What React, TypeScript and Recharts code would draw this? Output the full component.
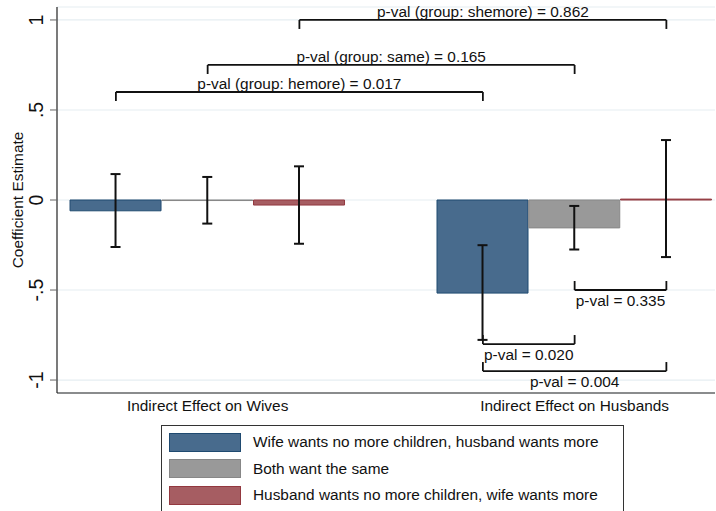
import React from "react";
import {
  ComposedChart,
  Bar,
  Cell,
  XAxis,
  YAxis,
  CartesianGrid,
  ErrorBar,
  ReferenceLine,
  Legend,
} from "recharts";

// ---------- data ----------
const groups = ["Indirect Effect on Wives", "Indirect Effect on Husbands"];
const seriesNames = [
  "Wife wants no more children, husband wants more",
  "Both want the same",
  "Husband wants no more children, wife wants more",
];

const wifeMoreEst = [-0.06, -0.517];
const wifeMoreLo = [-0.261, -0.777];
const wifeMoreHi = [0.144, -0.251];

const bothSameEst = [-0.003, -0.155];
const bothSameLo = [-0.131, -0.275];
const bothSameHi = [0.128, -0.033];

const husbMoreEst = [-0.028, 0.005];
const husbMoreLo = [-0.243, -0.317];
const husbMoreHi = [0.187, 0.333];

const yTicks = [-1, -0.5, 0, 0.5, 1];
const yTickLabels = ["-1", "-.5", "0", ".5", "1"];

// tests across groups (same series, wives vs husbands)
const groupTestLabels = [
  "p-val (group: hemore) = 0.017",
  "p-val (group: same) = 0.165",
  "p-val (group: shemore) = 0.862",
];
const groupTestSeries = [0, 1, 2];
const groupTestLevels = [0.6, 0.75, 1.0];

// tests within husbands group
const husbTestLabels = ["p-val = 0.335", "p-val = 0.020", "p-val = 0.004"];
const husbTestFrom = [1, 0, 0];
const husbTestTo = [2, 1, 2];
const husbTestLevels = [-0.5, -0.8, -0.95];

// ---------- styles ----------
const FONT = "'Liberation Sans', Arial, Helvetica, sans-serif";
const FS = 15.4;
const fills = ["#486b8d", "#999999", "#a65d62"];
const strokes = ["#1f4a70", "#878787", "#93383f"];
const LEG = 0.05;

const estimates = [wifeMoreEst, bothSameEst, husbMoreEst];
const lows = [wifeMoreLo, bothSameLo, husbMoreLo];
const highs = [wifeMoreHi, bothSameHi, husbMoreHi];

const slotX = (g: number, s: number) => g * (seriesNames.length + 1) + s + 0.5;
const groupCenters = groups.map((_, g) => slotX(g, (seriesNames.length - 1) / 2));

const rows = groups.flatMap((_, g) =>
  seriesNames.map((__, s) => ({
    x: slotX(g, s),
    value: estimates[s][g],
    err: [estimates[s][g] - lows[s][g], highs[s][g] - estimates[s][g]],
    series: s,
  }))
);

type Seg = { x1: number; y1: number; x2: number; y2: number; label?: string; below?: boolean };
const segments: Seg[] = [];
groupTestLabels.forEach((label, i) => {
  const s = groupTestSeries[i];
  const a = slotX(0, s);
  const b = slotX(1, s);
  const L = groupTestLevels[i];
  segments.push({ x1: a, y1: L - LEG, x2: a, y2: L });
  segments.push({ x1: a, y1: L, x2: b, y2: L, label, below: false });
  segments.push({ x1: b, y1: L, x2: b, y2: L - LEG });
});
husbTestLabels.forEach((label, i) => {
  const a = slotX(1, husbTestFrom[i]);
  const b = slotX(1, husbTestTo[i]);
  const L = husbTestLevels[i];
  segments.push({ x1: a, y1: L + LEG, x2: a, y2: L });
  segments.push({ x1: a, y1: L, x2: b, y2: L, label, below: true });
  segments.push({ x1: b, y1: L, x2: b, y2: L + LEG });
});

const makeLabel = (text: string, below: boolean) => (props: any) => {
  const vb = props.viewBox || {};
  return (
    <text
      x={vb.x + vb.width / 2}
      y={below ? vb.y + 15.5 : vb.y - 3}
      textAnchor="middle"
      fontSize={FS}
      fontFamily={FONT}
      fill="#111"
    >
      {text}
    </text>
  );
};

const YTick = (props: any) => {
  const { x, y, payload } = props;
  const idx = yTicks.indexOf(payload.value);
  return (
    <text
      transform={`translate(${x - 5},${y}) rotate(-90)`}
      textAnchor="middle"
      fontSize={19.5}
      fontFamily={FONT}
      fill="#111"
    >
      {idx >= 0 ? yTickLabels[idx] : payload.value}
    </text>
  );
};

const XTick = (props: any) => {
  const { x, y, payload } = props;
  const idx = groupCenters.indexOf(payload.value);
  return (
    <text x={x} y={y} dy={18} textAnchor="middle" fontSize={FS} fontFamily={FONT} fill="#111">
      {idx >= 0 ? groups[idx] : ""}
    </text>
  );
};

const YLabel = (props: any) => {
  const vb = props.viewBox || { x: 0, y: 0, width: 0, height: 0 };
  return (
    <text
      transform={`translate(${vb.x + 23},${vb.y + vb.height / 2}) rotate(-90)`}
      textAnchor="middle"
      fontSize={FS}
      fontFamily={FONT}
      fill="#111"
    >
      Coefficient Estimate
    </text>
  );
};

const LegendBox = () => (
  <div
    style={{
      border: "1px solid #333",
      width: 463,
      height: 100,
      boxSizing: "border-box",
      background: "#fff",
      fontFamily: FONT,
      fontSize: FS,
      color: "#111",
      paddingTop: 3,
      paddingLeft: 7,
    }}
  >
    {seriesNames.map((name, i) => (
      <div key={name} style={{ display: "flex", alignItems: "center", height: 26.5 }}>
        <div
          style={{
            width: 72,
            height: 19,
            boxSizing: "border-box",
            background: fills[i],
            border: `1px solid ${strokes[i]}`,
            marginRight: 12,
          }}
        />
        <span>{name}</span>
      </div>
    ))}
  </div>
);

export default function App() {
  return (
    <div
      style={{
        position: "absolute",
        left: 0,
        top: 0,
        width: 716,
        height: 511,
        overflow: "hidden",
        background: "#fff",
      }}
    >
      <ComposedChart
        width={716}
        height={511}
        data={rows}
        margin={{ top: 7, right: 1, left: 0, bottom: 88 }}
        style={{ fontFamily: FONT }}
      >
        <CartesianGrid horizontal vertical={false} stroke="#e6eef2" strokeWidth={1.2} />
        <XAxis
          type="number"
          dataKey="x"
          domain={[-0.142, 7.03]}
          ticks={groupCenters}
          allowDataOverflow
          tickLine={false}
          tickSize={0}
          tickMargin={0}
          height={30}
          axisLine={{ stroke: "#222", strokeWidth: 1.2 }}
          tick={<XTick />}
          interval={0}
        />
        <YAxis
          type="number"
          domain={[-1.072, 1.072]}
          ticks={yTicks}
          allowDataOverflow
          width={57}
          tickSize={7}
          tickLine={{ stroke: "#666" }}
          axisLine={{ stroke: "#222", strokeWidth: 1.2 }}
          tick={<YTick />}
          interval={0}
          label={<YLabel />}
        />
        <Bar dataKey="value" barSize={91} isAnimationActive={false} strokeWidth={1}>
          {rows.map((r, i) => (
            <Cell key={i} fill={fills[r.series]} stroke={strokes[r.series]} />
          ))}
          <ErrorBar dataKey="err" width={5} stroke="#111" strokeWidth={2} direction="y" />
        </Bar>
        {segments.map((sg, i) => (
          <ReferenceLine
            key={i}
            segment={[
              { x: sg.x1, y: sg.y1 },
              { x: sg.x2, y: sg.y2 },
            ]}
            stroke="#111"
            strokeWidth={1.8}
            ifOverflow="visible"
            label={sg.label ? makeLabel(sg.label, !!sg.below) : undefined}
          />
        ))}
        <Legend
          layout="vertical"
          align="center"
          verticalAlign="middle"
          wrapperStyle={{ left: 161, top: 425, width: 463 }}
          content={() => <LegendBox />}
        />
      </ComposedChart>
    </div>
  );
}
